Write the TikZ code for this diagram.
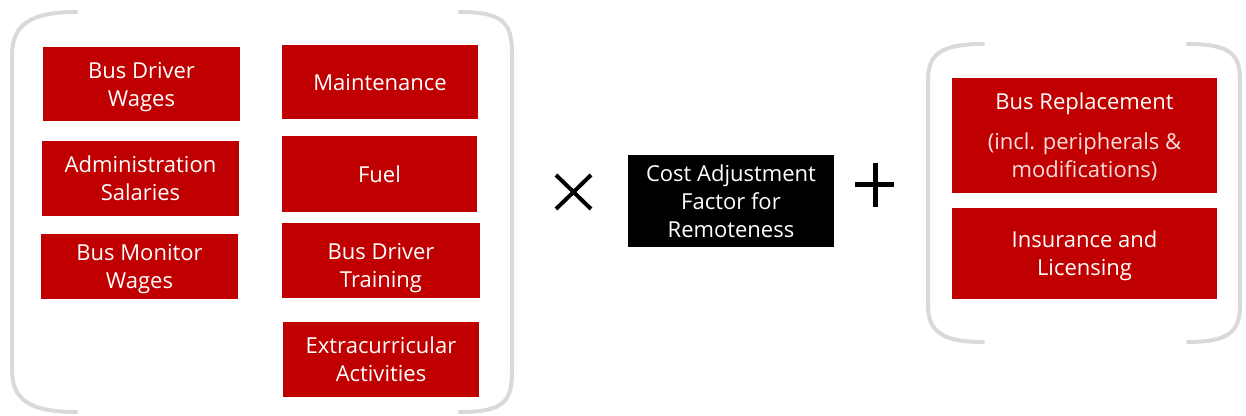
\documentclass[tikz,border=0pt]{standalone}
\usepackage{fontspec}
\setmainfont{Open Sans}

\definecolor{costred}{RGB}{192,0,0}
\definecolor{bracegray}{RGB}{217,217,217}
\definecolor{palepink}{RGB}{250,222,222}

\begin{document}
\begin{tikzpicture}[x=0.75pt,y=-0.75pt,
    redbox/.style={rectangle,fill=costred,text=white,align=center,inner sep=0pt,
      text depth=0pt,font=\fontsize{16.5}{21}\selectfont},
    blackbox/.style={redbox,fill=black},
    brace/.style={draw=bracegray,line width=3pt,line cap=round},
    oper/.style={draw=black,line width=3pt}]

  \useasboundingbox (0,0) rectangle (1246,416);

  % yearly operating costs
  \node (drvwage) at (141.5,84) [redbox,minimum width=147.75pt,minimum height=55.5pt]{Bus Driver\\Wages};
  \node (admin) at (140.5,178.5) [redbox,minimum width=147.75pt,minimum height=56.25pt]{Administration\\Salaries};
  \node (monitor) at (139.5,266.5) [redbox,minimum width=147.75pt,minimum height=48.75pt]{Bus Monitor\\Wages};

  \node (maint) at (380,82) [redbox,minimum width=147pt,minimum height=55.5pt]{Maintenance};
  \node (fuel) at (379.5,174) [redbox,minimum width=146.25pt,minimum height=57pt]{Fuel};
  \node (training) at (381,260.5) [redbox,minimum width=148.5pt,minimum height=56.25pt,text height=41pt]{Bus Driver\\Training};
  \node (extra) at (381,359.5) [redbox,minimum width=147pt,minimum height=56.25pt]{Extracurricular\\Activities};

  \draw[brace] (76,12) .. controls (30,12) and (12,25) .. (12,55) -- (12,370)
    .. controls (12,400) and (30,412) .. (76,412);
  \draw[brace] (460,12) .. controls (506,12) and (512,25) .. (512,55) -- (512,370)
    .. controls (512,400) and (506,412) .. (460,412);

  % times
  \draw[oper] (556,175) -- (591,209);
  \draw[oper] (556,209) -- (591,175);

  \node (caf) at (731,201) [blackbox,minimum width=154.5pt,minimum height=69pt]{Cost Adjustment\\Factor for\\Remoteness};

  % plus
  \draw[oper,line width=3.75pt] (855,185) -- (894,185);
  \draw[oper,line width=3.75pt] (875,163) -- (875,207);

  % capital costs
  \node (busrepl) at (1084.5,135.5) [redbox,minimum width=198.75pt,minimum height=86.25pt]
    {Bus Replacement\\[9pt]\textcolor{palepink}{(incl. peripherals \&}\\\textcolor{palepink}{modifications)}};
  \node (insur) at (1084.5,253.5) [redbox,minimum width=198.75pt,minimum height=68.25pt]{Insurance and\\Licensing};

  \draw[brace] (983,44) .. controls (940,44) and (928,55) .. (928,80) -- (928,305)
    .. controls (928,330) and (940,342) .. (983,342);
  \draw[brace] (1188,44) .. controls (1231,44) and (1240,55) .. (1240,80) -- (1240,305)
    .. controls (1240,330) and (1231,342) .. (1188,342);

\end{tikzpicture}
\end{document}
